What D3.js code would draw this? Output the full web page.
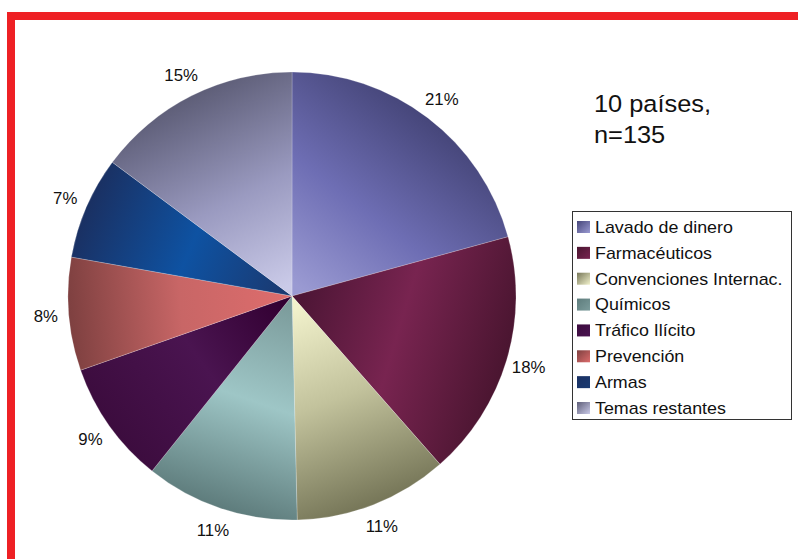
<!DOCTYPE html>
<html>
<head>
<meta charset="utf-8">
<script src="https://cdn.jsdelivr.net/npm/d3@7"></script>
<style>
  html, body { margin: 0; padding: 0; background: #ffffff; }
  svg { display: block; }
  text { font-family: "Liberation Sans", Arial, sans-serif; fill: #111; }
</style>
</head>
<body>
<svg id="chart" width="798" height="559"></svg>
<script>
// Data
const categories = ["Lavado de dinero", "Farmacéuticos", "Convenciones Internac.", "Químicos", "Tráfico Ilícito", "Prevención", "Armas", "Temas restantes"];
const counts = [28, 24, 15, 15, 12, 11, 10, 20];
const percentLabels = ["21%", "18%", "11%", "11%", "9%", "8%", "7%", "15%"];
const innerColors = ["#9a9ad2", "#4e1636", "#f2f2cc", "#7c9c9c", "#320032", "#dc6c6c", "#1a3a72", "#cacae8"];
const midColors   = ["#6e6eb4", "#782450", "#c2c29c", "#9ec6c6", "#4a1450", "#c86666", "#0e52a2", "#9a9ac0"];
const outerColors = ["#46467a", "#4a1530", "#767658", "#5e7c7c", "#3c0c3e", "#7e4040", "#1a3062", "#5e5e78"];
const annotation = ["10 países,", "n=135"];

const svg = d3.select("#chart");
const defs = svg.append("defs");

// Red frame
svg.append("rect").attr("x", 7).attr("y", 12).attr("width", 791).attr("height", 8).attr("fill", "#ee2024");
svg.append("rect").attr("x", 7).attr("y", 12).attr("width", 8).attr("height", 547).attr("fill", "#ee2024");

const cx = 292, cy = 296, R = 224;
const pie = d3.pie().sort(null).value(d => d)(counts);
const arc = d3.arc().innerRadius(0).outerRadius(R);

pie.forEach((p, i) => {
  const a = (p.startAngle + p.endAngle) / 2;
  const g = defs.append("linearGradient")
    .attr("id", "g" + i)
    .attr("gradientUnits", "userSpaceOnUse")
    .attr("x1", 0).attr("y1", 0)
    .attr("x2", R * Math.sin(a)).attr("y2", -R * Math.cos(a));
  g.append("stop").attr("offset", "0.05").attr("stop-color", innerColors[i]);
  g.append("stop").attr("offset", "0.5").attr("stop-color", midColors[i]);
  g.append("stop").attr("offset", "1").attr("stop-color", outerColors[i]);

  const sg = defs.append("linearGradient")
    .attr("id", "s" + i)
    .attr("x1", "0").attr("y1", "0").attr("x2", "1").attr("y2", "1");
  sg.append("stop").attr("offset", "0").attr("stop-color", outerColors[i]);
  sg.append("stop").attr("offset", "1").attr("stop-color", i === 1 || i === 4 ? midColors[i] : innerColors[i]);
});

const pg = svg.append("g").attr("transform", `translate(${cx},${cy})`);
pg.selectAll("path").data(pie).join("path")
  .attr("d", arc)
  .attr("fill", (d, i) => `url(#g${i})`)
  .attr("stroke", "rgba(255,255,255,0.35)")
  .attr("stroke-width", 0.6);

const labelArc = d3.arc().innerRadius(247).outerRadius(247);
pg.selectAll("text.pct").data(pie).join("text")
  .attr("class", "pct")
  .attr("transform", d => `translate(${labelArc.centroid(d)}) scale(1.05,1)`)
  .attr("text-anchor", "middle")
  .attr("dominant-baseline", "central")
  .style("font-size", "16px")
  .text((d, i) => percentLabels[i]);

// Annotation
svg.append("text").attr("transform", "translate(594,112) scale(1.08,1)").style("font-size", "23.5px").text(annotation[0]);
svg.append("text").attr("transform", "translate(594,143) scale(1.08,1)").style("font-size", "23.5px").text(annotation[1]);

// Legend
const lg = svg.append("g");
lg.append("rect").attr("x", 572.5).attr("y", 211.5).attr("width", 219).attr("height", 208)
  .attr("fill", "#fff").attr("stroke", "#333").attr("stroke-width", 1);
const ly = d3.scalePoint().domain(categories).range([227, 408]);
categories.forEach((c, i) => {
  lg.append("rect").attr("x", 577).attr("y", ly(c) - 6).attr("width", 13).attr("height", 12)
    .attr("fill", `url(#s${i})`);
  lg.append("text").attr("transform", `translate(595,${ly(c)}) scale(1.05,1)`).attr("dominant-baseline", "central")
    .style("font-size", "17px").text(c);
});
</script>
</body>
</html>
